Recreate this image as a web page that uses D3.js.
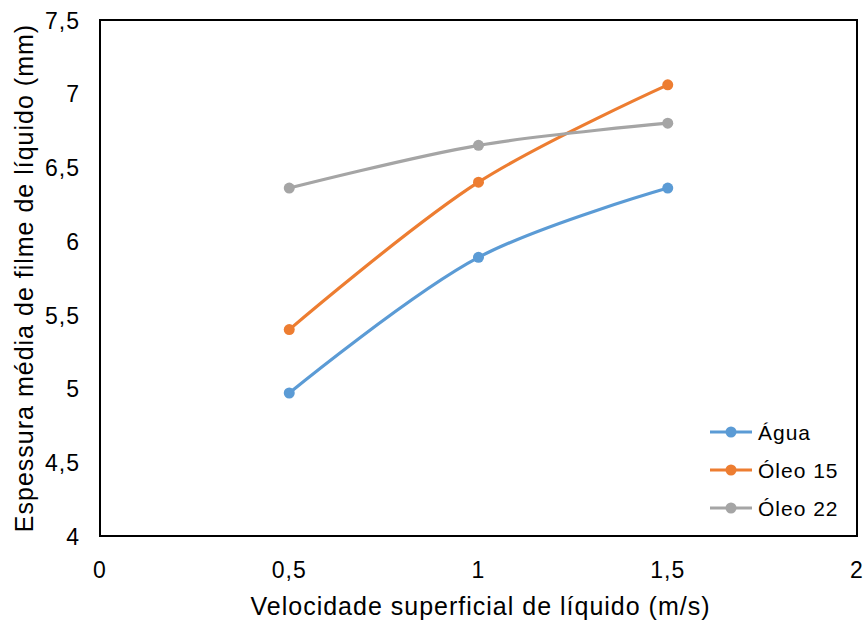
<!DOCTYPE html>
<html>
<head>
<meta charset="utf-8">
<script src="https://cdn.jsdelivr.net/npm/d3@7"></script>
<style>
    body { margin: 0; background: #fff; }
    text { font-family: "Liberation Sans", Arial, sans-serif; fill: #000; }
</style>
</head>
<body>
<div id="chart"></div>
<script>
var velocidades = [0.5, 1, 1.5];
var agua = [4.97, 5.89, 6.36];
var oleo15 = [5.40, 6.40, 7.06];
var oleo22 = [6.36, 6.65, 6.80];
var xTicks = [0, 0.5, 1, 1.5, 2];
var yTicks = [4, 4.5, 5, 5.5, 6, 6.5, 7, 7.5];

var series = [
    {name: "Água", values: agua, color: "#5B9BD5"},
    {name: "Óleo 15", values: oleo15, color: "#ED7D31"},
    {name: "Óleo 22", values: oleo22, color: "#A5A5A5"}
];

var width = 866, height = 621;
var plotLeft = 100, plotRight = 857, plotTop = 20, plotBottom = 536;

var svg = d3.select("#chart")
    .append("svg")
    .attr("width", width)
    .attr("height", height);

var x = d3.scaleLinear().domain([0, 2]).range([plotLeft, plotRight]);
var y = d3.scaleLinear().domain([4, 7.5]).range([plotBottom, plotTop]);

var fmt = function (d) {
    return String(d).replace(".", ",");
};

// plot frame
svg.append("rect")
    .attr("x", plotLeft)
    .attr("y", plotTop)
    .attr("width", plotRight - plotLeft)
    .attr("height", plotBottom - plotTop)
    .attr("fill", "none")
    .attr("stroke", "#000")
    .attr("stroke-width", 2);

svg.selectAll(".ytick")
    .data(yTicks)
    .enter().append("text")
    .attr("class", "ytick")
    .attr("x", plotLeft - 20)
    .attr("y", function (d) { return y(d); })
    .attr("dy", "0.38em")
    .attr("text-anchor", "end")
    .style("font-size", "23px")
    .style("letter-spacing", "1px")
    .text(fmt);

svg.selectAll(".xtick")
    .data(xTicks)
    .enter().append("text")
    .attr("class", "xtick")
    .attr("x", function (d) { return x(d); })
    .attr("y", plotBottom + 42)
    .attr("text-anchor", "middle")
    .style("font-size", "23px")
    .style("letter-spacing", "1px")
    .text(fmt);

svg.append("text")
    .attr("x", (plotLeft + plotRight) / 2 + 2)
    .attr("y", 615)
    .attr("text-anchor", "middle")
    .style("font-size", "25px")
    .style("letter-spacing", "1px")
    .text("Velocidade superficial de líquido (m/s)");

svg.append("text")
    .attr("transform", "translate(33," + ((plotTop + plotBottom) / 2) + ") rotate(-90)")
    .attr("text-anchor", "middle")
    .style("font-size", "25px")
    .style("letter-spacing", "1px")
    .text("Espessura média de filme de líquido (mm)");

var line = d3.line()
    .x(function (d, i) { return x(velocidades[i]); })
    .y(function (d) { return y(d); })
    .curve(d3.curveCatmullRom.alpha(0.5));

var g = svg.selectAll(".serie")
    .data(series)
    .enter().append("g")
    .attr("class", "serie");

g.append("path")
    .attr("d", function (d) { return line(d.values); })
    .attr("fill", "none")
    .attr("stroke", function (d) { return d.color; })
    .attr("stroke-width", 3.2);

g.selectAll("circle")
    .data(function (d) { return d.values.map(function (v, i) { return {v: v, i: i, color: d.color}; }); })
    .enter().append("circle")
    .attr("cx", function (d) { return x(velocidades[d.i]); })
    .attr("cy", function (d) { return y(d.v); })
    .attr("r", 5.5)
    .attr("fill", function (d) { return d.color; });

// legend
var legend = svg.selectAll(".legend")
    .data(series)
    .enter().append("g")
    .attr("class", "legend")
    .attr("transform", function (d, i) { return "translate(710," + (432 + i * 38) + ")"; });

legend.append("line")
    .attr("x1", 0).attr("x2", 42)
    .attr("stroke", function (d) { return d.color; })
    .attr("stroke-width", 3.2);

legend.append("circle")
    .attr("cx", 21)
    .attr("r", 5.5)
    .attr("fill", function (d) { return d.color; });

legend.append("text")
    .attr("x", 48)
    .attr("dy", "0.36em")
    .style("font-size", "21px")
    .style("letter-spacing", "1px")
    .text(function (d) { return d.name; });
</script>
</body>
</html>
